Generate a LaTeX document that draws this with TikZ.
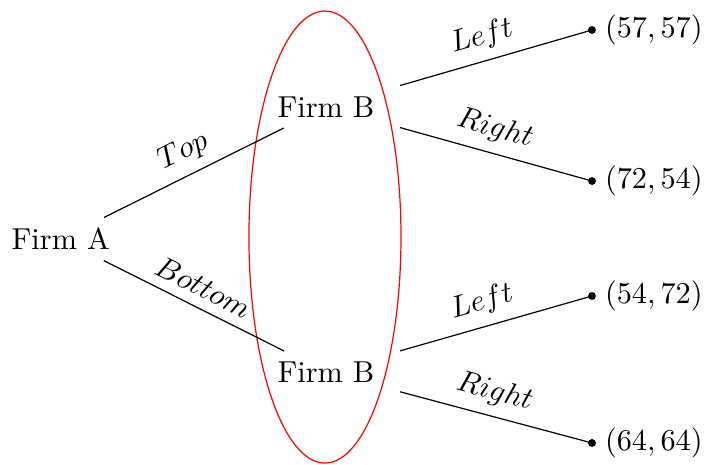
\documentclass[tikz,border=0pt]{standalone}
\begin{document}
\begin{tikzpicture}[
  firm/.style={inner sep=3.33pt},
  leafdot/.style={circle,fill=black,inner sep=0pt,minimum size=2.6pt},
  edge/.style={draw=black,line width=0.4pt},
  bedge/.style={edge,shorten <=0.18cm},
  elabel/.style={midway,above,sloped}
]
\useasboundingbox (0,0) rectangle (8.202,5.383);
\node[firm] (A) at (0.705,2.610) {Firm A};
\node[firm] (B1) at (3.782,4.142) {Firm B};
\node[firm] (B2) at (3.782,1.067) {Firm B};
\node[leafdot,label={[inner sep=2.6pt]right:$(57,57)$}] (L1) at (6.868,5.035) {};
\node[leafdot,label={[inner sep=2.6pt]right:$(72,54)$}] (L2) at (6.868,3.283) {};
\node[leafdot,label={[inner sep=2.6pt]right:$(54,72)$}] (L3) at (6.868,1.949) {};
\node[leafdot,label={[inner sep=2.6pt]right:$(64,64)$}] (L4) at (6.868,0.244) {};
\draw[red] (3.770,2.633) ellipse [x radius=0.882, y radius=2.622];
\draw[edge] (A) -- node[elabel] {$Top$} (B1);
\draw[edge] (A) -- node[elabel] {$Bottom$} (B2);
\draw[bedge] (B1) -- node[elabel] {$Left$} (L1.center);
\draw[bedge] (B1) -- node[elabel] {$Right$} (L2.center);
\draw[bedge] (B2) -- node[elabel] {$Left$} (L3.center);
\draw[bedge] (B2) -- node[elabel] {$Right$} (L4.center);
\end{tikzpicture}
\end{document}
